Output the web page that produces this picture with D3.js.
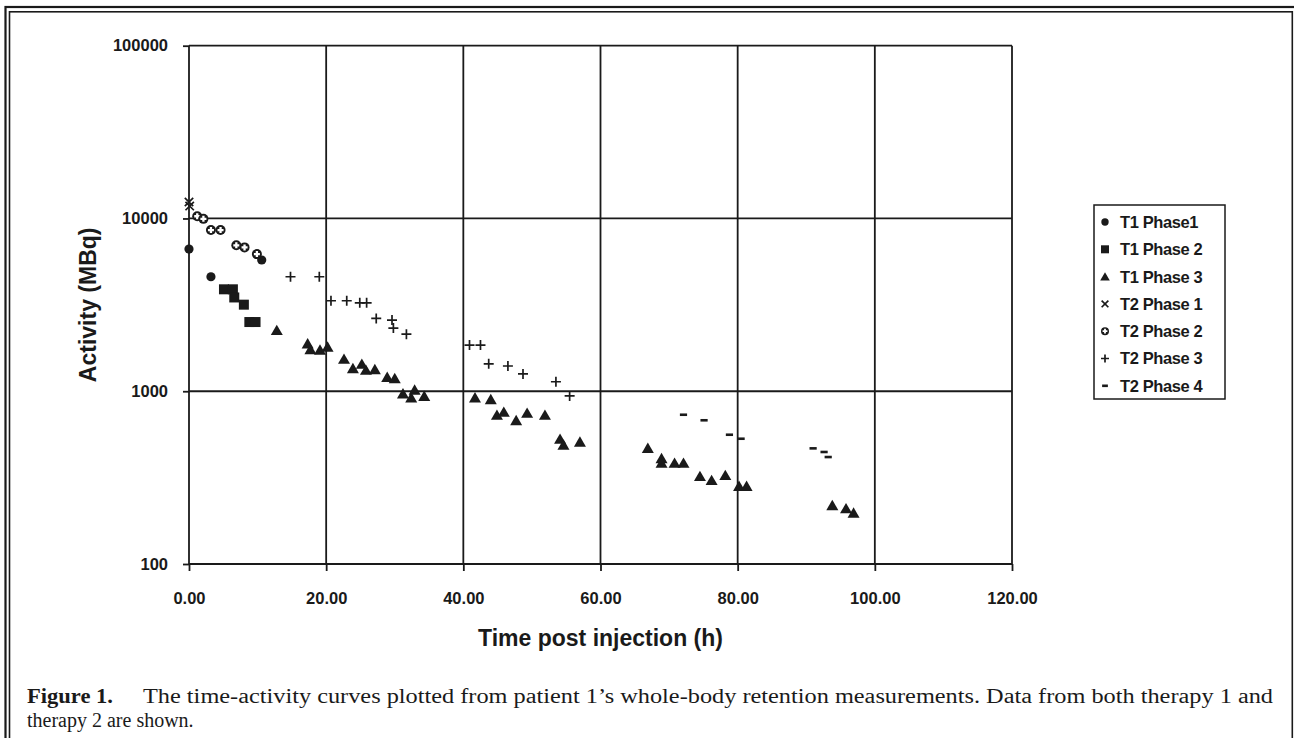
<!DOCTYPE html>
<html>
<head>
<meta charset="utf-8">
<script src="https://cdn.jsdelivr.net/npm/d3@7"></script>
<style>
  html, body { margin: 0; padding: 0; background: #fff; }
  svg { display: block; }
</style>
</head>
<body>
<div id="chart"></div>
<script>
// --- data (time in h, activity in MBq) ---
const seriesNames = ["T1 Phase1", "T1 Phase 2", "T1 Phase 3", "T2 Phase 1", "T2 Phase 2", "T2 Phase 3", "T2 Phase 4"];
const seriesShapes = ["circle", "square", "triangle", "cross", "ring", "plus", "dash"];

const t1p1Time = [0, 3.2, 10.6];
const t1p1Act = [6650, 4600, 5750];

const t1p2Time = [5.1, 6.4, 6.6, 8.0, 8.8, 9.7];
const t1p2Act = [3890, 3890, 3490, 3170, 2515, 2515];

const t1p3Time = [12.8, 17.3, 17.7, 19.1, 20.2, 22.6, 23.9, 25.2, 25.8, 27.1, 28.9, 30.0, 31.2, 32.4, 32.9, 34.3,
  41.7, 44.0, 44.9, 45.9, 47.7, 49.3, 51.9, 54.1, 54.6, 57.0, 66.9, 68.9, 68.9, 70.8, 72.1, 74.5, 76.2, 78.2,
  80.2, 81.3, 93.8, 95.8, 96.9];
const t1p3Act = [2260, 1890, 1750, 1740, 1810, 1540, 1360, 1440, 1330, 1340, 1210, 1190, 970, 920, 1020, 940,
  920, 900, 730, 760, 680, 750, 730, 530, 490, 510, 470, 410, 385, 385, 385, 323, 306, 327,
  283, 283, 219, 210, 198];

const t2p1Time = [0, 0.1];
const t2p1Act = [12450, 11800];

const t2p2Time = [1.2, 2.1, 3.2, 4.6, 6.9, 8.1, 9.9];
const t2p2Act = [10300, 9950, 8570, 8570, 6990, 6800, 6220];

const t2p3Time = [14.8, 19.0, 20.7, 23.0, 24.9, 25.9, 27.3, 29.6, 29.8, 31.7, 40.9, 42.5, 43.7, 46.5, 48.7, 53.5, 55.5];
const t2p3Act = [4600, 4600, 3340, 3340, 3250, 3250, 2640, 2580, 2320, 2140, 1850, 1850, 1440, 1400, 1260, 1135, 940];

const t2p4Time = [72.1, 75.1, 78.8, 80.5, 91.0, 92.6, 93.2];
const t2p4Act = [731, 679, 560, 531, 467, 445, 416];

const xTicks = [0, 20, 40, 60, 80, 100, 120];
const yTicks = [100, 1000, 10000, 100000];

const seriesTimes = [t1p1Time, t1p2Time, t1p3Time, t2p1Time, t2p2Time, t2p3Time, t2p4Time];
const seriesActs = [t1p1Act, t1p2Act, t1p3Act, t2p1Act, t2p2Act, t2p3Act, t2p4Act];

// --- layout ---
const W = 1294, H = 738;
const plot = { left: 189, right: 1012, top: 45.7, bottom: 564 };
const ink = "#1a1a1a";
const sans = "'Liberation Sans', Arial, sans-serif";
const serif = "'Liberation Serif', 'Times New Roman', serif";

const svg = d3.select("#chart").append("svg")
  .attr("width", W)
  .attr("height", H);

// page frame (double rule)
svg.append("rect")
  .attr("x", 5.5).attr("y", 7).attr("width", W + 10).attr("height", H + 10)
  .attr("fill", "none").attr("stroke", ink).attr("stroke-width", 2.2);
svg.append("rect")
  .attr("x", 9.5).attr("y", 11.8).attr("width", 1292.3 - 9.5).attr("height", H + 10)
  .attr("fill", "none").attr("stroke", ink).attr("stroke-width", 1.6);

const x = d3.scaleLinear().domain([0, 120]).range([plot.left, plot.right]);
const y = d3.scaleLog().domain([100, 100000]).range([plot.bottom, plot.top]);

// grid
const grid = svg.append("g").attr("stroke", ink).attr("stroke-width", 1.8);
grid.selectAll(".vgrid").data(xTicks).enter().append("line")
  .attr("x1", d => x(d)).attr("x2", d => x(d))
  .attr("y1", plot.top).attr("y2", plot.bottom);
grid.selectAll(".hgrid").data(yTicks).enter().append("line")
  .attr("x1", plot.left).attr("x2", plot.right)
  .attr("y1", d => y(d)).attr("y2", d => y(d));

// x axis
const xAxis = svg.append("g")
  .attr("transform", `translate(0,${plot.bottom})`)
  .call(d3.axisBottom(x).tickValues(xTicks).tickSize(7).tickPadding(21).tickFormat(d3.format(".2f")));
xAxis.select(".domain").remove();
xAxis.selectAll("line").attr("stroke", ink).attr("stroke-width", 1.8);
xAxis.selectAll("text")
  .attr("fill", ink)
  .style("font-family", sans)
  .style("font-size", "16.5px")
  .style("font-weight", "bold");

// y axis
const yAxis = svg.append("g")
  .attr("transform", `translate(${plot.left},0)`)
  .call(d3.axisLeft(y).tickValues(yTicks).tickSize(6).tickPadding(15).tickFormat(d3.format("d")));
yAxis.select(".domain").remove();
yAxis.selectAll("line").attr("stroke", ink).attr("stroke-width", 1.8);
yAxis.selectAll("text")
  .attr("fill", ink)
  .style("font-family", sans)
  .style("font-size", "16.5px")
  .style("font-weight", "bold");

// axis titles
svg.append("text")
  .attr("x", (plot.left + plot.right) / 2)
  .attr("y", 646)
  .attr("text-anchor", "middle")
  .attr("fill", ink)
  .style("font-family", sans)
  .style("font-size", "23px")
  .style("font-weight", "bold")
  .text("Time post injection (h)");

svg.append("text")
  .attr("transform", `translate(96,${(plot.top + plot.bottom) / 2}) rotate(-90)`)
  .attr("text-anchor", "middle")
  .attr("fill", ink)
  .style("font-family", sans)
  .style("font-size", "23px")
  .style("font-weight", "bold")
  .text("Activity (MBq)");

// marker drawing
function drawMarker(g, shape, k) {
  k = k || 1;
  if (shape === "circle") {
    g.append("circle").attr("r", 4.6 * k).attr("fill", ink);
  } else if (shape === "square") {
    g.append("rect").attr("x", -5 * k).attr("y", -5 * k)
      .attr("width", 10 * k).attr("height", 10 * k).attr("fill", ink);
  } else if (shape === "triangle") {
    g.append("path")
      .attr("d", `M0,${-5.4 * k} L${6 * k},${5 * k} L${-6 * k},${5 * k} Z`)
      .attr("fill", ink);
  } else if (shape === "cross") {
    const s = 4.2 * k;
    g.append("path").attr("d", `M${-s},${-s} L${s},${s} M${-s},${s} L${s},${-s}`)
      .attr("stroke", ink).attr("stroke-width", 1.7);
  } else if (shape === "ring") {
    g.append("circle").attr("r", 5 * k).attr("fill", ink);
    const s = 3 * k;
    g.append("path").attr("d", `M${-s},0 L${s},0 M0,${-s} L0,${s}`)
      .attr("stroke", "#fff").attr("stroke-width", 2.3 * k);
  } else if (shape === "plus") {
    const s = 5 * k;
    g.append("path").attr("d", `M${-s},0 L${s},0 M0,${-s} L0,${s}`)
      .attr("stroke", ink).attr("stroke-width", 1.7);
  } else if (shape === "dash") {
    g.append("rect").attr("x", -3.6 * k).attr("y", -1.3)
      .attr("width", 7.2 * k).attr("height", 2.6).attr("fill", ink);
  }
}

// scatter points
seriesNames.forEach((name, i) => {
  const pts = seriesTimes[i].map((t, j) => ({ t: t, v: seriesActs[i][j] }));
  svg.append("g").attr("class", "series")
    .selectAll("g").data(pts).enter().append("g")
    .attr("transform", d => `translate(${x(d.t)},${y(d.v)})`)
    .each(function () { drawMarker(d3.select(this), seriesShapes[i]); });
});

// legend
const legend = svg.append("g").attr("transform", "translate(1094,205)");
legend.append("rect")
  .attr("width", 131).attr("height", 194)
  .attr("fill", "#fff").attr("stroke", ink).attr("stroke-width", 1.5);
const rows = legend.selectAll(".row").data(seriesNames).enter().append("g")
  .attr("transform", (d, i) => `translate(0,${17 + i * 27.3})`);
rows.append("g").attr("transform", "translate(11,0)")
  .each(function (d, i) { drawMarker(d3.select(this), seriesShapes[i], 0.8); });
rows.append("text")
  .attr("x", 26).attr("dy", "0.36em")
  .attr("fill", ink)
  .style("font-family", sans)
  .style("font-size", "16.5px")
  .style("font-weight", "bold")
  .style("letter-spacing", "-0.4px")
  .text(d => d);

// caption
const cap = svg.append("text")
  .attr("y", 703)
  .attr("fill", ink)
  .style("font-family", serif)
  .style("font-size", "20px");
cap.append("tspan").attr("x", 27).style("font-weight", "bold")
  .attr("textLength", 86).attr("lengthAdjust", "spacingAndGlyphs")
  .text("Figure 1.");
cap.append("tspan").attr("x", 143)
  .attr("textLength", 1130).attr("lengthAdjust", "spacingAndGlyphs")
  .text("The time-activity curves plotted from patient 1\u2019s whole-body retention measurements. Data from both therapy 1 and");
svg.append("text")
  .attr("x", 27).attr("y", 727)
  .attr("fill", ink)
  .style("font-family", serif)
  .style("font-size", "20px")
  .text("therapy 2 are shown.");
</script>
</body>
</html>
